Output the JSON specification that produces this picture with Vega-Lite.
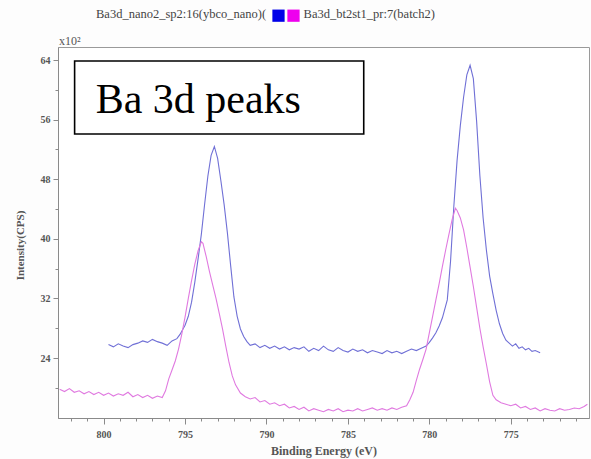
{
  "$schema": "https://vega.github.io/schema/vega-lite/v6.json",
  "width": 531,
  "height": 371,
  "autosize": "none",
  "padding": {"left": 58, "top": 47, "right": 2, "bottom": 41},
  "background": "#fdfdfd",
  "config": {"font": "Liberation Serif", "view": {"stroke": "#9a9a9a", "fill": "#ffffff"}, "title": {"font": "Liberation Serif"}},
  "title": {
    "text": "Ba3d_nano2_sp2:16(ybco_nano)(\u00a0\u00a0\u00a0\u00a0\u00a0\u00a0\u00a0\u00a0\u00a0\u00a0\u00a0\u00a0Ba3d_bt2st1_pr:7(batch2)",
    "anchor": "start",
    "frame": "group",
    "baseline": "alphabetic",
    "dx": 38,
    "offset": 0,
    "dy": 21,
    "fontSize": 12.5,
    "fontWeight": "normal",
    "color": "#444444",
    "font": "Liberation Serif"
  },
  "datasets": {
    "curves": [
      {"E": 799.7, "I": 25.8, "s": "Ba3d_nano2_sp2:16(ybco_nano)"},
      {"E": 799.4, "I": 25.5, "s": "Ba3d_nano2_sp2:16(ybco_nano)"},
      {"E": 799.1, "I": 25.9, "s": "Ba3d_nano2_sp2:16(ybco_nano)"},
      {"E": 798.8, "I": 25.6, "s": "Ba3d_nano2_sp2:16(ybco_nano)"},
      {"E": 798.5, "I": 25.4, "s": "Ba3d_nano2_sp2:16(ybco_nano)"},
      {"E": 798.2, "I": 25.8, "s": "Ba3d_nano2_sp2:16(ybco_nano)"},
      {"E": 797.9, "I": 26.0, "s": "Ba3d_nano2_sp2:16(ybco_nano)"},
      {"E": 797.6, "I": 26.3, "s": "Ba3d_nano2_sp2:16(ybco_nano)"},
      {"E": 797.3, "I": 26.1, "s": "Ba3d_nano2_sp2:16(ybco_nano)"},
      {"E": 797.0, "I": 26.5, "s": "Ba3d_nano2_sp2:16(ybco_nano)"},
      {"E": 796.7, "I": 26.2, "s": "Ba3d_nano2_sp2:16(ybco_nano)"},
      {"E": 796.4, "I": 26.0, "s": "Ba3d_nano2_sp2:16(ybco_nano)"},
      {"E": 796.1, "I": 25.7, "s": "Ba3d_nano2_sp2:16(ybco_nano)"},
      {"E": 795.8, "I": 26.3, "s": "Ba3d_nano2_sp2:16(ybco_nano)"},
      {"E": 795.5, "I": 26.6, "s": "Ba3d_nano2_sp2:16(ybco_nano)"},
      {"E": 795.3, "I": 27.2, "s": "Ba3d_nano2_sp2:16(ybco_nano)"},
      {"E": 795.0, "I": 28.4, "s": "Ba3d_nano2_sp2:16(ybco_nano)"},
      {"E": 794.8, "I": 29.6, "s": "Ba3d_nano2_sp2:16(ybco_nano)"},
      {"E": 794.6, "I": 31.5, "s": "Ba3d_nano2_sp2:16(ybco_nano)"},
      {"E": 794.4, "I": 34.2, "s": "Ba3d_nano2_sp2:16(ybco_nano)"},
      {"E": 794.2, "I": 37.3, "s": "Ba3d_nano2_sp2:16(ybco_nano)"},
      {"E": 794.0, "I": 40.6, "s": "Ba3d_nano2_sp2:16(ybco_nano)"},
      {"E": 793.8, "I": 44.6, "s": "Ba3d_nano2_sp2:16(ybco_nano)"},
      {"E": 793.6, "I": 48.4, "s": "Ba3d_nano2_sp2:16(ybco_nano)"},
      {"E": 793.4, "I": 51.2, "s": "Ba3d_nano2_sp2:16(ybco_nano)"},
      {"E": 793.2, "I": 52.4, "s": "Ba3d_nano2_sp2:16(ybco_nano)"},
      {"E": 793.0, "I": 50.8, "s": "Ba3d_nano2_sp2:16(ybco_nano)"},
      {"E": 792.8, "I": 47.8, "s": "Ba3d_nano2_sp2:16(ybco_nano)"},
      {"E": 792.6, "I": 44.6, "s": "Ba3d_nano2_sp2:16(ybco_nano)"},
      {"E": 792.4, "I": 40.8, "s": "Ba3d_nano2_sp2:16(ybco_nano)"},
      {"E": 792.2, "I": 36.4, "s": "Ba3d_nano2_sp2:16(ybco_nano)"},
      {"E": 792.0, "I": 32.2, "s": "Ba3d_nano2_sp2:16(ybco_nano)"},
      {"E": 791.8, "I": 29.6, "s": "Ba3d_nano2_sp2:16(ybco_nano)"},
      {"E": 791.6, "I": 27.9, "s": "Ba3d_nano2_sp2:16(ybco_nano)"},
      {"E": 791.4, "I": 26.9, "s": "Ba3d_nano2_sp2:16(ybco_nano)"},
      {"E": 791.2, "I": 26.2, "s": "Ba3d_nano2_sp2:16(ybco_nano)"},
      {"E": 791.0, "I": 25.7, "s": "Ba3d_nano2_sp2:16(ybco_nano)"},
      {"E": 790.7, "I": 25.9, "s": "Ba3d_nano2_sp2:16(ybco_nano)"},
      {"E": 790.4, "I": 25.4, "s": "Ba3d_nano2_sp2:16(ybco_nano)"},
      {"E": 790.1, "I": 25.7, "s": "Ba3d_nano2_sp2:16(ybco_nano)"},
      {"E": 789.8, "I": 25.3, "s": "Ba3d_nano2_sp2:16(ybco_nano)"},
      {"E": 789.5, "I": 25.6, "s": "Ba3d_nano2_sp2:16(ybco_nano)"},
      {"E": 789.2, "I": 25.2, "s": "Ba3d_nano2_sp2:16(ybco_nano)"},
      {"E": 788.9, "I": 25.5, "s": "Ba3d_nano2_sp2:16(ybco_nano)"},
      {"E": 788.6, "I": 25.1, "s": "Ba3d_nano2_sp2:16(ybco_nano)"},
      {"E": 788.3, "I": 25.4, "s": "Ba3d_nano2_sp2:16(ybco_nano)"},
      {"E": 788.0, "I": 25.2, "s": "Ba3d_nano2_sp2:16(ybco_nano)"},
      {"E": 787.7, "I": 25.5, "s": "Ba3d_nano2_sp2:16(ybco_nano)"},
      {"E": 787.4, "I": 24.9, "s": "Ba3d_nano2_sp2:16(ybco_nano)"},
      {"E": 787.1, "I": 25.3, "s": "Ba3d_nano2_sp2:16(ybco_nano)"},
      {"E": 786.8, "I": 25.0, "s": "Ba3d_nano2_sp2:16(ybco_nano)"},
      {"E": 786.5, "I": 25.6, "s": "Ba3d_nano2_sp2:16(ybco_nano)"},
      {"E": 786.2, "I": 25.1, "s": "Ba3d_nano2_sp2:16(ybco_nano)"},
      {"E": 785.9, "I": 24.9, "s": "Ba3d_nano2_sp2:16(ybco_nano)"},
      {"E": 785.6, "I": 25.4, "s": "Ba3d_nano2_sp2:16(ybco_nano)"},
      {"E": 785.3, "I": 25.0, "s": "Ba3d_nano2_sp2:16(ybco_nano)"},
      {"E": 785.0, "I": 24.8, "s": "Ba3d_nano2_sp2:16(ybco_nano)"},
      {"E": 784.7, "I": 25.2, "s": "Ba3d_nano2_sp2:16(ybco_nano)"},
      {"E": 784.4, "I": 24.9, "s": "Ba3d_nano2_sp2:16(ybco_nano)"},
      {"E": 784.1, "I": 25.1, "s": "Ba3d_nano2_sp2:16(ybco_nano)"},
      {"E": 783.8, "I": 24.7, "s": "Ba3d_nano2_sp2:16(ybco_nano)"},
      {"E": 783.5, "I": 25.0, "s": "Ba3d_nano2_sp2:16(ybco_nano)"},
      {"E": 783.2, "I": 24.8, "s": "Ba3d_nano2_sp2:16(ybco_nano)"},
      {"E": 782.9, "I": 24.6, "s": "Ba3d_nano2_sp2:16(ybco_nano)"},
      {"E": 782.6, "I": 25.0, "s": "Ba3d_nano2_sp2:16(ybco_nano)"},
      {"E": 782.3, "I": 24.7, "s": "Ba3d_nano2_sp2:16(ybco_nano)"},
      {"E": 782.0, "I": 24.9, "s": "Ba3d_nano2_sp2:16(ybco_nano)"},
      {"E": 781.7, "I": 24.6, "s": "Ba3d_nano2_sp2:16(ybco_nano)"},
      {"E": 781.4, "I": 24.9, "s": "Ba3d_nano2_sp2:16(ybco_nano)"},
      {"E": 781.1, "I": 25.2, "s": "Ba3d_nano2_sp2:16(ybco_nano)"},
      {"E": 780.8, "I": 25.0, "s": "Ba3d_nano2_sp2:16(ybco_nano)"},
      {"E": 780.5, "I": 25.3, "s": "Ba3d_nano2_sp2:16(ybco_nano)"},
      {"E": 780.2, "I": 25.6, "s": "Ba3d_nano2_sp2:16(ybco_nano)"},
      {"E": 780.0, "I": 26.1, "s": "Ba3d_nano2_sp2:16(ybco_nano)"},
      {"E": 779.8, "I": 26.7, "s": "Ba3d_nano2_sp2:16(ybco_nano)"},
      {"E": 779.6, "I": 27.4, "s": "Ba3d_nano2_sp2:16(ybco_nano)"},
      {"E": 779.4, "I": 28.3, "s": "Ba3d_nano2_sp2:16(ybco_nano)"},
      {"E": 779.2, "I": 29.4, "s": "Ba3d_nano2_sp2:16(ybco_nano)"},
      {"E": 778.9, "I": 31.8, "s": "Ba3d_nano2_sp2:16(ybco_nano)"},
      {"E": 778.7, "I": 37.0, "s": "Ba3d_nano2_sp2:16(ybco_nano)"},
      {"E": 778.5, "I": 44.3, "s": "Ba3d_nano2_sp2:16(ybco_nano)"},
      {"E": 778.3, "I": 50.5, "s": "Ba3d_nano2_sp2:16(ybco_nano)"},
      {"E": 778.1, "I": 55.2, "s": "Ba3d_nano2_sp2:16(ybco_nano)"},
      {"E": 777.9, "I": 59.0, "s": "Ba3d_nano2_sp2:16(ybco_nano)"},
      {"E": 777.7, "I": 62.0, "s": "Ba3d_nano2_sp2:16(ybco_nano)"},
      {"E": 777.5, "I": 63.3, "s": "Ba3d_nano2_sp2:16(ybco_nano)"},
      {"E": 777.3, "I": 61.5, "s": "Ba3d_nano2_sp2:16(ybco_nano)"},
      {"E": 777.1, "I": 55.8, "s": "Ba3d_nano2_sp2:16(ybco_nano)"},
      {"E": 776.9, "I": 48.5, "s": "Ba3d_nano2_sp2:16(ybco_nano)"},
      {"E": 776.7, "I": 42.8, "s": "Ba3d_nano2_sp2:16(ybco_nano)"},
      {"E": 776.5, "I": 38.5, "s": "Ba3d_nano2_sp2:16(ybco_nano)"},
      {"E": 776.3, "I": 35.0, "s": "Ba3d_nano2_sp2:16(ybco_nano)"},
      {"E": 776.1, "I": 32.6, "s": "Ba3d_nano2_sp2:16(ybco_nano)"},
      {"E": 775.9, "I": 30.4, "s": "Ba3d_nano2_sp2:16(ybco_nano)"},
      {"E": 775.7, "I": 28.6, "s": "Ba3d_nano2_sp2:16(ybco_nano)"},
      {"E": 775.5, "I": 27.3, "s": "Ba3d_nano2_sp2:16(ybco_nano)"},
      {"E": 775.3, "I": 26.4, "s": "Ba3d_nano2_sp2:16(ybco_nano)"},
      {"E": 775.1, "I": 26.0, "s": "Ba3d_nano2_sp2:16(ybco_nano)"},
      {"E": 774.9, "I": 25.6, "s": "Ba3d_nano2_sp2:16(ybco_nano)"},
      {"E": 774.7, "I": 25.9, "s": "Ba3d_nano2_sp2:16(ybco_nano)"},
      {"E": 774.5, "I": 25.3, "s": "Ba3d_nano2_sp2:16(ybco_nano)"},
      {"E": 774.3, "I": 25.5, "s": "Ba3d_nano2_sp2:16(ybco_nano)"},
      {"E": 774.1, "I": 25.1, "s": "Ba3d_nano2_sp2:16(ybco_nano)"},
      {"E": 773.9, "I": 25.3, "s": "Ba3d_nano2_sp2:16(ybco_nano)"},
      {"E": 773.7, "I": 24.9, "s": "Ba3d_nano2_sp2:16(ybco_nano)"},
      {"E": 773.5, "I": 25.0, "s": "Ba3d_nano2_sp2:16(ybco_nano)"},
      {"E": 773.2, "I": 24.7, "s": "Ba3d_nano2_sp2:16(ybco_nano)"},
      {"E": 802.7, "I": 19.8, "s": "Ba3d_bt2st1_pr:7(batch2)"},
      {"E": 802.4, "I": 19.5, "s": "Ba3d_bt2st1_pr:7(batch2)"},
      {"E": 802.1, "I": 19.9, "s": "Ba3d_bt2st1_pr:7(batch2)"},
      {"E": 801.8, "I": 19.4, "s": "Ba3d_bt2st1_pr:7(batch2)"},
      {"E": 801.5, "I": 19.6, "s": "Ba3d_bt2st1_pr:7(batch2)"},
      {"E": 801.2, "I": 19.2, "s": "Ba3d_bt2st1_pr:7(batch2)"},
      {"E": 800.9, "I": 19.5, "s": "Ba3d_bt2st1_pr:7(batch2)"},
      {"E": 800.6, "I": 19.1, "s": "Ba3d_bt2st1_pr:7(batch2)"},
      {"E": 800.3, "I": 19.4, "s": "Ba3d_bt2st1_pr:7(batch2)"},
      {"E": 800.0, "I": 19.0, "s": "Ba3d_bt2st1_pr:7(batch2)"},
      {"E": 799.7, "I": 19.3, "s": "Ba3d_bt2st1_pr:7(batch2)"},
      {"E": 799.4, "I": 18.9, "s": "Ba3d_bt2st1_pr:7(batch2)"},
      {"E": 799.1, "I": 19.2, "s": "Ba3d_bt2st1_pr:7(batch2)"},
      {"E": 798.8, "I": 19.0, "s": "Ba3d_bt2st1_pr:7(batch2)"},
      {"E": 798.5, "I": 19.4, "s": "Ba3d_bt2st1_pr:7(batch2)"},
      {"E": 798.2, "I": 18.8, "s": "Ba3d_bt2st1_pr:7(batch2)"},
      {"E": 797.9, "I": 19.1, "s": "Ba3d_bt2st1_pr:7(batch2)"},
      {"E": 797.6, "I": 18.7, "s": "Ba3d_bt2st1_pr:7(batch2)"},
      {"E": 797.3, "I": 19.0, "s": "Ba3d_bt2st1_pr:7(batch2)"},
      {"E": 797.0, "I": 18.6, "s": "Ba3d_bt2st1_pr:7(batch2)"},
      {"E": 796.7, "I": 18.9, "s": "Ba3d_bt2st1_pr:7(batch2)"},
      {"E": 796.4, "I": 18.7, "s": "Ba3d_bt2st1_pr:7(batch2)"},
      {"E": 796.2, "I": 19.6, "s": "Ba3d_bt2st1_pr:7(batch2)"},
      {"E": 796.0, "I": 21.2, "s": "Ba3d_bt2st1_pr:7(batch2)"},
      {"E": 795.8, "I": 22.4, "s": "Ba3d_bt2st1_pr:7(batch2)"},
      {"E": 795.6, "I": 23.6, "s": "Ba3d_bt2st1_pr:7(batch2)"},
      {"E": 795.4, "I": 25.2, "s": "Ba3d_bt2st1_pr:7(batch2)"},
      {"E": 795.2, "I": 27.2, "s": "Ba3d_bt2st1_pr:7(batch2)"},
      {"E": 795.0, "I": 29.5, "s": "Ba3d_bt2st1_pr:7(batch2)"},
      {"E": 794.8, "I": 32.0, "s": "Ba3d_bt2st1_pr:7(batch2)"},
      {"E": 794.6, "I": 34.4, "s": "Ba3d_bt2st1_pr:7(batch2)"},
      {"E": 794.4, "I": 36.6, "s": "Ba3d_bt2st1_pr:7(batch2)"},
      {"E": 794.2, "I": 38.4, "s": "Ba3d_bt2st1_pr:7(batch2)"},
      {"E": 794.0, "I": 39.6, "s": "Ba3d_bt2st1_pr:7(batch2)"},
      {"E": 793.9, "I": 39.4, "s": "Ba3d_bt2st1_pr:7(batch2)"},
      {"E": 793.7, "I": 37.6, "s": "Ba3d_bt2st1_pr:7(batch2)"},
      {"E": 793.5, "I": 35.6, "s": "Ba3d_bt2st1_pr:7(batch2)"},
      {"E": 793.3, "I": 33.8, "s": "Ba3d_bt2st1_pr:7(batch2)"},
      {"E": 793.1, "I": 32.0, "s": "Ba3d_bt2st1_pr:7(batch2)"},
      {"E": 792.9, "I": 30.0, "s": "Ba3d_bt2st1_pr:7(batch2)"},
      {"E": 792.7, "I": 27.9, "s": "Ba3d_bt2st1_pr:7(batch2)"},
      {"E": 792.5, "I": 25.6, "s": "Ba3d_bt2st1_pr:7(batch2)"},
      {"E": 792.3, "I": 23.4, "s": "Ba3d_bt2st1_pr:7(batch2)"},
      {"E": 792.1, "I": 21.6, "s": "Ba3d_bt2st1_pr:7(batch2)"},
      {"E": 791.9, "I": 20.4, "s": "Ba3d_bt2st1_pr:7(batch2)"},
      {"E": 791.6, "I": 19.3, "s": "Ba3d_bt2st1_pr:7(batch2)"},
      {"E": 791.3, "I": 18.8, "s": "Ba3d_bt2st1_pr:7(batch2)"},
      {"E": 791.0, "I": 18.5, "s": "Ba3d_bt2st1_pr:7(batch2)"},
      {"E": 790.7, "I": 18.7, "s": "Ba3d_bt2st1_pr:7(batch2)"},
      {"E": 790.4, "I": 18.1, "s": "Ba3d_bt2st1_pr:7(batch2)"},
      {"E": 790.1, "I": 18.3, "s": "Ba3d_bt2st1_pr:7(batch2)"},
      {"E": 789.8, "I": 17.8, "s": "Ba3d_bt2st1_pr:7(batch2)"},
      {"E": 789.5, "I": 18.0, "s": "Ba3d_bt2st1_pr:7(batch2)"},
      {"E": 789.2, "I": 17.6, "s": "Ba3d_bt2st1_pr:7(batch2)"},
      {"E": 788.9, "I": 17.8, "s": "Ba3d_bt2st1_pr:7(batch2)"},
      {"E": 788.6, "I": 17.3, "s": "Ba3d_bt2st1_pr:7(batch2)"},
      {"E": 788.3, "I": 17.5, "s": "Ba3d_bt2st1_pr:7(batch2)"},
      {"E": 788.0, "I": 17.1, "s": "Ba3d_bt2st1_pr:7(batch2)"},
      {"E": 787.7, "I": 17.4, "s": "Ba3d_bt2st1_pr:7(batch2)"},
      {"E": 787.4, "I": 16.9, "s": "Ba3d_bt2st1_pr:7(batch2)"},
      {"E": 787.1, "I": 17.2, "s": "Ba3d_bt2st1_pr:7(batch2)"},
      {"E": 786.8, "I": 17.0, "s": "Ba3d_bt2st1_pr:7(batch2)"},
      {"E": 786.5, "I": 16.8, "s": "Ba3d_bt2st1_pr:7(batch2)"},
      {"E": 786.2, "I": 17.1, "s": "Ba3d_bt2st1_pr:7(batch2)"},
      {"E": 785.9, "I": 16.9, "s": "Ba3d_bt2st1_pr:7(batch2)"},
      {"E": 785.6, "I": 17.2, "s": "Ba3d_bt2st1_pr:7(batch2)"},
      {"E": 785.3, "I": 16.8, "s": "Ba3d_bt2st1_pr:7(batch2)"},
      {"E": 785.0, "I": 17.0, "s": "Ba3d_bt2st1_pr:7(batch2)"},
      {"E": 784.7, "I": 16.9, "s": "Ba3d_bt2st1_pr:7(batch2)"},
      {"E": 784.4, "I": 17.2, "s": "Ba3d_bt2st1_pr:7(batch2)"},
      {"E": 784.1, "I": 16.9, "s": "Ba3d_bt2st1_pr:7(batch2)"},
      {"E": 783.8, "I": 17.1, "s": "Ba3d_bt2st1_pr:7(batch2)"},
      {"E": 783.5, "I": 17.3, "s": "Ba3d_bt2st1_pr:7(batch2)"},
      {"E": 783.2, "I": 17.0, "s": "Ba3d_bt2st1_pr:7(batch2)"},
      {"E": 782.9, "I": 17.2, "s": "Ba3d_bt2st1_pr:7(batch2)"},
      {"E": 782.6, "I": 17.0, "s": "Ba3d_bt2st1_pr:7(batch2)"},
      {"E": 782.3, "I": 17.3, "s": "Ba3d_bt2st1_pr:7(batch2)"},
      {"E": 782.0, "I": 17.1, "s": "Ba3d_bt2st1_pr:7(batch2)"},
      {"E": 781.7, "I": 17.4, "s": "Ba3d_bt2st1_pr:7(batch2)"},
      {"E": 781.4, "I": 17.6, "s": "Ba3d_bt2st1_pr:7(batch2)"},
      {"E": 781.2, "I": 18.4, "s": "Ba3d_bt2st1_pr:7(batch2)"},
      {"E": 781.0, "I": 19.4, "s": "Ba3d_bt2st1_pr:7(batch2)"},
      {"E": 780.8, "I": 21.0, "s": "Ba3d_bt2st1_pr:7(batch2)"},
      {"E": 780.6, "I": 22.5, "s": "Ba3d_bt2st1_pr:7(batch2)"},
      {"E": 780.4, "I": 23.8, "s": "Ba3d_bt2st1_pr:7(batch2)"},
      {"E": 780.2, "I": 25.2, "s": "Ba3d_bt2st1_pr:7(batch2)"},
      {"E": 780.0, "I": 27.4, "s": "Ba3d_bt2st1_pr:7(batch2)"},
      {"E": 779.8, "I": 29.6, "s": "Ba3d_bt2st1_pr:7(batch2)"},
      {"E": 779.6, "I": 31.8, "s": "Ba3d_bt2st1_pr:7(batch2)"},
      {"E": 779.4, "I": 34.0, "s": "Ba3d_bt2st1_pr:7(batch2)"},
      {"E": 779.2, "I": 36.3, "s": "Ba3d_bt2st1_pr:7(batch2)"},
      {"E": 779.0, "I": 38.5, "s": "Ba3d_bt2st1_pr:7(batch2)"},
      {"E": 778.8, "I": 40.6, "s": "Ba3d_bt2st1_pr:7(batch2)"},
      {"E": 778.6, "I": 42.6, "s": "Ba3d_bt2st1_pr:7(batch2)"},
      {"E": 778.4, "I": 44.1, "s": "Ba3d_bt2st1_pr:7(batch2)"},
      {"E": 778.3, "I": 43.8, "s": "Ba3d_bt2st1_pr:7(batch2)"},
      {"E": 778.1, "I": 42.8, "s": "Ba3d_bt2st1_pr:7(batch2)"},
      {"E": 777.9, "I": 41.2, "s": "Ba3d_bt2st1_pr:7(batch2)"},
      {"E": 777.7, "I": 38.8, "s": "Ba3d_bt2st1_pr:7(batch2)"},
      {"E": 777.5, "I": 36.2, "s": "Ba3d_bt2st1_pr:7(batch2)"},
      {"E": 777.3, "I": 33.6, "s": "Ba3d_bt2st1_pr:7(batch2)"},
      {"E": 777.1, "I": 30.8, "s": "Ba3d_bt2st1_pr:7(batch2)"},
      {"E": 776.9, "I": 28.0, "s": "Ba3d_bt2st1_pr:7(batch2)"},
      {"E": 776.7, "I": 25.5, "s": "Ba3d_bt2st1_pr:7(batch2)"},
      {"E": 776.5, "I": 23.2, "s": "Ba3d_bt2st1_pr:7(batch2)"},
      {"E": 776.3, "I": 20.8, "s": "Ba3d_bt2st1_pr:7(batch2)"},
      {"E": 776.1, "I": 19.0, "s": "Ba3d_bt2st1_pr:7(batch2)"},
      {"E": 775.9, "I": 18.4, "s": "Ba3d_bt2st1_pr:7(batch2)"},
      {"E": 775.6, "I": 18.0, "s": "Ba3d_bt2st1_pr:7(batch2)"},
      {"E": 775.3, "I": 17.8, "s": "Ba3d_bt2st1_pr:7(batch2)"},
      {"E": 775.0, "I": 17.6, "s": "Ba3d_bt2st1_pr:7(batch2)"},
      {"E": 774.7, "I": 17.8, "s": "Ba3d_bt2st1_pr:7(batch2)"},
      {"E": 774.4, "I": 17.3, "s": "Ba3d_bt2st1_pr:7(batch2)"},
      {"E": 774.1, "I": 17.5, "s": "Ba3d_bt2st1_pr:7(batch2)"},
      {"E": 773.8, "I": 17.1, "s": "Ba3d_bt2st1_pr:7(batch2)"},
      {"E": 773.5, "I": 17.3, "s": "Ba3d_bt2st1_pr:7(batch2)"},
      {"E": 773.2, "I": 16.9, "s": "Ba3d_bt2st1_pr:7(batch2)"},
      {"E": 772.9, "I": 17.2, "s": "Ba3d_bt2st1_pr:7(batch2)"},
      {"E": 772.6, "I": 17.0, "s": "Ba3d_bt2st1_pr:7(batch2)"},
      {"E": 772.3, "I": 16.9, "s": "Ba3d_bt2st1_pr:7(batch2)"},
      {"E": 772.0, "I": 17.2, "s": "Ba3d_bt2st1_pr:7(batch2)"},
      {"E": 771.7, "I": 17.0, "s": "Ba3d_bt2st1_pr:7(batch2)"},
      {"E": 771.4, "I": 17.1, "s": "Ba3d_bt2st1_pr:7(batch2)"},
      {"E": 771.1, "I": 17.3, "s": "Ba3d_bt2st1_pr:7(batch2)"},
      {"E": 770.8, "I": 17.2, "s": "Ba3d_bt2st1_pr:7(batch2)"},
      {"E": 770.5, "I": 17.5, "s": "Ba3d_bt2st1_pr:7(batch2)"},
      {"E": 770.3, "I": 17.8, "s": "Ba3d_bt2st1_pr:7(batch2)"}
    ],
    "box": [{"E": 801.78, "E2": 784.03, "I": 63.87, "I2": 54.07}],
    "boxlabel": [{"E": 800.49, "I": 56.9, "label": "Ba 3d peaks"}],
    "unit": [{"E": 802.8, "I": 65.75, "label": "x10²"}]
  },
  "encoding": {
    "x": {
      "field": "E", "type": "quantitative",
      "scale": {"domain": [770.2, 802.8], "reverse": true, "nice": false, "zero": false},
      "axis": {
        "title": "Binding Energy (eV)",
        "values": [771,772,773,774,775,776,777,778,779,780,781,782,783,784,785,786,787,788,789,790,791,792,793,794,795,796,797,798,799,800,801,802],
        "labelExpr": "datum.value % 5 === 0 ? datum.label : ''",
        "labelOverlap": false,
        "labelFlush": false,
        "grid": false,
        "domainColor": "#8a8a8a",
        "tickColor": "#8a8a8a",
        "tickSize": {"condition": {"test": "datum.value % 5 === 0", "value": 6}, "value": 3},
        "labelFontSize": 10,
        "labelFontWeight": "bold",
        "labelColor": "#555555",
        "labelPadding": 5,
        "titleFontSize": 12,
        "titleFontWeight": "bold",
        "titleColor": "#555555",
        "titlePadding": 6
      }
    },
    "y": {
      "field": "I", "type": "quantitative",
      "scale": {"domain": [15.95, 65.75], "nice": false, "zero": false},
      "axis": {
        "title": "Intensity(CPS)",
        "values": [20,24,28,32,36,40,44,48,52,56,60,64],
        "labelExpr": "datum.value % 8 === 0 ? datum.label : ''",
        "labelOverlap": false,
        "labelFlush": false,
        "grid": false,
        "domainColor": "#8a8a8a",
        "tickColor": "#8a8a8a",
        "tickSize": {"condition": {"test": "datum.value % 8 === 0", "value": 5}, "value": 3},
        "labelFontSize": 10,
        "labelFontWeight": "bold",
        "labelColor": "#555555",
        "labelPadding": 3,
        "titleFontSize": 11,
        "titleFontWeight": "bold",
        "titleColor": "#555555",
        "titleX": -33,
        "titleY": 198
      }
    }
  },
  "layer": [
    {
      "data": {"name": "curves"},
      "mark": {"type": "line", "strokeWidth": 1.1, "interpolate": "linear"},
      "encoding": {
        "color": {
          "field": "s", "type": "nominal",
          "scale": {"domain": ["Ba3d_nano2_sp2:16(ybco_nano)", "Ba3d_bt2st1_pr:7(batch2)"], "range": ["#7070d6", "#e07ae0"]},
          "legend": {
            "orient": "none",
            "legendX": 214,
            "legendY": -38,
            "direction": "horizontal",
            "title": null,
            "labelExpr": "''",
            "labelOffset": 0,
            "labelFontSize": 1,
            "columnPadding": 2,
            "padding": 0,
            "symbolType": "square",
            "symbolSize": 150,
            "symbolStrokeWidth": 0,
            "encode": {"symbols": {"update": {"fill": {"signal": "datum.index === 0 ? '#0000e8' : '#ee00ee'"}, "opacity": {"value": 1}, "strokeWidth": {"value": 0}}}}
          }
        },
        "order": {"field": "E", "type": "quantitative", "sort": "descending"}
      }
    },
    {
      "data": {"name": "box"},
      "mark": {"type": "rect", "fill": "#ffffff", "stroke": "#000000", "strokeWidth": 1.6},
      "encoding": {
        "x2": {"field": "E2"},
        "y2": {"field": "I2"}
      }
    },
    {
      "data": {"name": "boxlabel"},
      "mark": {"type": "text", "align": "left", "baseline": "alphabetic", "fontSize": 42, "font": "Liberation Serif", "color": "#000000"},
      "encoding": {
        "text": {"field": "label"}
      }
    },
    {
      "data": {"name": "unit"},
      "mark": {"type": "text", "align": "left", "baseline": "alphabetic", "fontSize": 12, "font": "Liberation Serif", "color": "#555555", "dx": 1, "dy": -2, "clip": false},
      "encoding": {
        "text": {"field": "label"}
      }
    }
  ]
}
